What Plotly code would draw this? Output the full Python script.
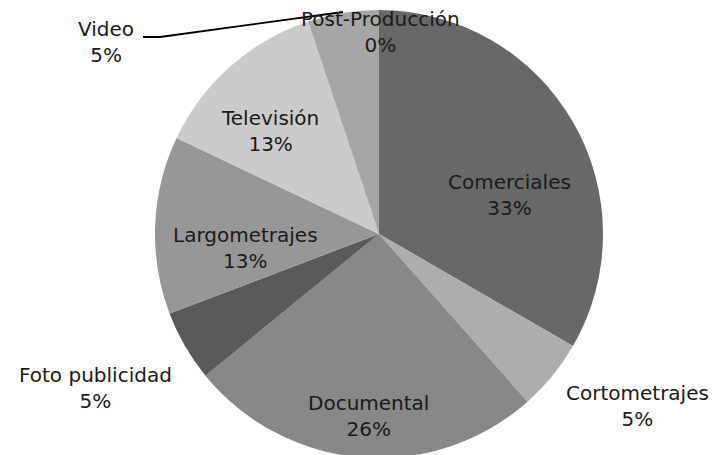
import plotly.graph_objects as go

labels = ["Comerciales", "Cortometrajes", "Documental", "Foto publicidad",
          "Largometrajes", "Televisión", "Video", "Post-Producción"]
values = [13, 2, 10, 2, 5, 5, 2, 0]
colors = ["#686868", "#adadad", "#888888", "#5a5a5a",
          "#979797", "#cbcbcb", "#a6a6a6", "#a0a0a0"]

W, H = 719, 455
OFF = 8  # page body margin
ML, MR, MT, MB = 0, 0, 2, 5
total = sum(values)
pct = [round(100 * v / total) for v in values]

FONT = dict(family="DejaVu Sans", size=20, color="#1a1a1a")

CX, R = 379 - OFF, 224
fig = go.Figure(go.Pie(
    labels=labels, values=values, sort=False, direction="clockwise",
    rotation=0, marker=dict(colors=colors, line=dict(width=0)),
    textinfo="none", showlegend=False, hoverinfo="label+percent",
    domain=dict(x=[(CX - R) / W, (CX + R) / W], y=[0, 1]),
))

def px2paper(x, y):
    x, y = x - OFF, y - OFF
    return (x - ML) / (W - ML - MR), 1 - (y - MT) / (H - MT - MB)

label_pos = {"Comerciales": (510, 195), "Cortometrajes": (637, 406),
             "Documental": (368, 416), "Foto publicidad": (95, 388),
             "Largometrajes": (245, 248), "Televisión": (270, 131),
             "Video": (106, 42), "Post-Producción": (380, 32)}
for l, p in zip(labels, pct):
    x, y = px2paper(*label_pos[l])
    fig.add_annotation(x=x, y=y, xref="paper", yref="paper", showarrow=False,
                       xanchor="center", yanchor="middle",
                       text=f"{l}<br>{p}%", font=FONT, align="center")

pts = [px2paper(143, 37), px2paper(160, 37), px2paper(343, 12)]
path = "M " + " L ".join(f"{x},{y}" for x, y in pts)
fig.add_shape(type="path", path=path, xref="paper", yref="paper",
              line=dict(color="black", width=1.8))

fig.update_layout(width=W, height=H, margin=dict(l=ML, r=MR, t=MT, b=MB),
                  paper_bgcolor="white", plot_bgcolor="white", font=FONT)
fig.write_html("out.html")
